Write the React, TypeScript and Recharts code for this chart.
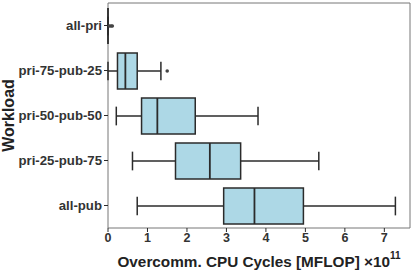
import { ComposedChart, Bar, XAxis, YAxis, CartesianGrid } from 'recharts'

const workloads = ['all-pri', 'pri-75-pub-25', 'pri-50-pub-50', 'pri-25-pub-75', 'all-pub']
const whiskerLow = [0, 0, 0.21, 0.62, 0.74]
const lowerQuartile = [0, 0.24, 0.85, 1.71, 2.93]
const medians = [0, 0.44, 1.25, 2.58, 3.71]
const upperQuartile = [0, 0.74, 2.21, 3.36, 4.95]
const whiskerHigh = [0, 1.34, 3.8, 5.34, 7.28]
const outliers = [[0.04, 0.08, 0.11], [1.5], [], [], []]
const xTicks = [0, 1, 2, 3, 4, 5, 6, 7]

// "unit" is a 0..1 range bar: its pixel x/width give the axis scale inside the shape
const data = workloads.map((name, i) => ({
  name,
  unit: [0, 1],
  low: whiskerLow[i],
  q1: lowerQuartile[i],
  median: medians[i],
  q3: upperQuartile[i],
  high: whiskerHigh[i],
  outliers: outliers[i],
}))

const FONT = '"Liberation Sans", Arial, sans-serif'
const INK = '#2b2b2b'

function BoxShape(props: any) {
  const { x, y, width, height, payload } = props
  const px = (v: number) => x + v * width
  const cy = y + height / 2
  const cap = height * 0.26
  return (
    <g>
      <line x1={px(payload.low)} x2={px(payload.q1)} y1={cy} y2={cy} stroke={INK} strokeWidth={1.5} />
      <line x1={px(payload.q3)} x2={px(payload.high)} y1={cy} y2={cy} stroke={INK} strokeWidth={1.5} />
      <line x1={px(payload.low)} x2={px(payload.low)} y1={cy - cap} y2={cy + cap} stroke={INK} strokeWidth={1.5} />
      <line x1={px(payload.high)} x2={px(payload.high)} y1={cy - cap} y2={cy + cap} stroke={INK} strokeWidth={1.5} />
      <rect
        x={px(payload.q1)}
        y={y}
        width={Math.max(px(payload.q3) - px(payload.q1), 0)}
        height={height}
        fill="lightblue"
        stroke={INK}
        strokeWidth={1.5}
      />
      <line x1={px(payload.median)} x2={px(payload.median)} y1={y} y2={y + height} stroke={INK} strokeWidth={1.8} />
      {payload.outliers.map((o: number, k: number) => (
        <circle key={k} cx={px(o)} cy={cy} r={1.8} fill="#444" />
      ))}
    </g>
  )
}

function XTitle(props: any) {
  const { viewBox } = props
  const cx = viewBox.x + viewBox.width / 2
  return (
    <text x={cx} y={viewBox.y + 39} textAnchor="middle" fontFamily={FONT} fontWeight="bold" fontSize={15.3} fill="#222">
      Overcomm. CPU Cycles [MFLOP] ×10
      <tspan fontSize={10} dy={-8}>11</tspan>
    </text>
  )
}

function YTitle(props: any) {
  const { viewBox } = props
  const cy = viewBox.y + viewBox.height / 2
  return (
    <text
      x={14}
      y={cy}
      textAnchor="middle"
      fontFamily={FONT}
      fontWeight="bold"
      fontSize={16}
      fill="#222"
      transform={`rotate(-90, 14, ${cy})`}
    >
      Workload
    </text>
  )
}

// panel border drawn as grid lines at the plot edges, so it sits under the boxes
const edgesX = ({ offset }: any) => [offset.left, offset.left + offset.width]
const edgesY = ({ offset }: any) => [offset.top, offset.top + offset.height]

export default function App() {
  return (
    <div style={{ position: 'absolute', left: 0, top: 0, width: 415, height: 271, background: '#fff' }}>
      <ComposedChart
        width={415}
        height={271}
        data={data}
        layout="vertical"
        margin={{ top: 3, right: 5, left: 0, bottom: 0 }}
      >
        <CartesianGrid
          stroke="#777"
          verticalCoordinatesGenerator={edgesX}
          horizontalCoordinatesGenerator={edgesY}
        />
        <XAxis
          type="number"
          domain={[0, 7.65]}
          ticks={xTicks}
          height={43}
          tickSize={4}
          tickMargin={1}
          axisLine={false}
          tickLine={{ stroke: INK }}
          tick={{ fontSize: 12.5, fontWeight: 'bold', fill: '#333', fontFamily: FONT }}
          label={<XTitle />}
        />
        <YAxis
          type="category"
          dataKey="name"
          width={108}
          tickSize={4}
          tickMargin={2}
          axisLine={false}
          tickLine={{ stroke: INK }}
          tick={{ fontSize: 13.2, fontWeight: 'bold', fill: '#333', fontFamily: FONT }}
          label={<YTitle />}
        />
        <Bar dataKey="unit" barSize={36} shape={<BoxShape />} isAnimationActive={false} />
      </ComposedChart>
    </div>
  )
}
